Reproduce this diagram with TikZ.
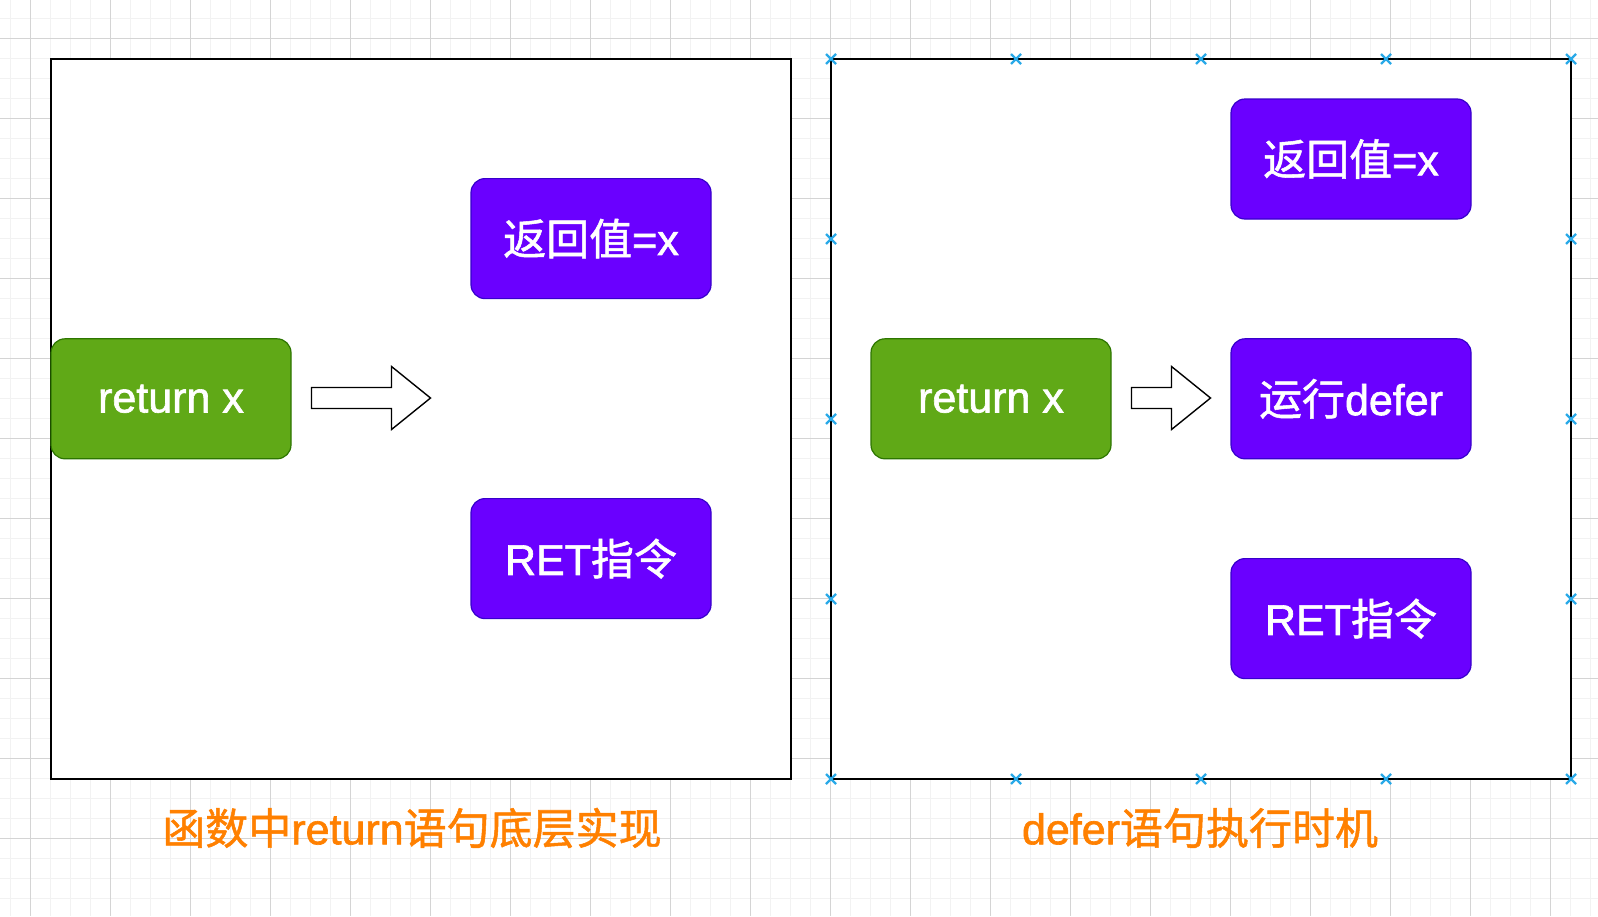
\documentclass[tikz,border=0pt]{standalone}
\usepackage{fontspec}
\setmainfont{Liberation Sans}[FakeBold=1.5]
\newfontfamily\cjk{Noto Sans CJK SC}[FakeBold=1.2]

\definecolor{gridlight}{HTML}{F2F2F2}
\definecolor{griddark}{HTML}{D4D4D4}
\definecolor{retfill}{HTML}{60A917}
\definecolor{retline}{HTML}{2D7600}
\definecolor{stepfill}{HTML}{6A00FF}
\definecolor{stepline}{HTML}{3700CC}
\definecolor{capcolor}{HTML}{FF8000}
\definecolor{handle}{HTML}{29A9E8}

\tikzset{
  frame/.style={draw=black,fill=white,line width=0.9pt,minimum width=370pt,minimum height=360pt,inner sep=0pt},
  retbox/.style={draw=retline,fill=retfill,line width=0.6pt,rounded corners=7pt,minimum width=120pt,minimum height=60pt,text=white,font=\fontsize{21.5pt}{25pt}\selectfont},
  stepbox/.style={retbox,draw=stepline,fill=stepfill},
  caption/.style={text=capcolor,font=\fontsize{21.5pt}{25pt}\selectfont},
  hollowarrow/.style={draw=black,fill=white,line width=0.7pt,line join=miter},
  xmark/.style={draw=handle,line width=1.1pt}
}

\begin{document}
\begin{tikzpicture}[x=0.5pt,y=-0.5pt]
  \useasboundingbox (0,0) rectangle (1598,916);
  \fill[white] (0,0) rectangle (1598,916);
  % grid
  \foreach \gx in {10.7,30.7,...,1598}
    \draw[gridlight,line width=0.5pt] (\gx,0) -- (\gx,916);
  \foreach \gy in {18.7,38.7,...,916}
    \draw[gridlight,line width=0.5pt] (0,\gy) -- (1598,\gy);
  \foreach \gx in {30.7,110.7,...,1598}
    \draw[griddark,line width=0.5pt] (\gx,0) -- (\gx,916);
  \foreach \gy in {38.7,118.7,...,916}
    \draw[griddark,line width=0.5pt] (0,\gy) -- (1598,\gy);

  % left part
  \node[frame] (lframe) at (421,419) {};
  \node[retbox] (lret) at (171,398.8) {return x};
  \node[stepbox] (lval) at (591,238.6) {{\cjk 返回值}=x};
  \node[stepbox] (lins) at (591,558.6) {RET{\cjk 指令}};
  \coordinate (larrow) at (311.5,398);
  \draw[hollowarrow] (larrow) ++(0,-10.5) -- ++(80,0) -- ++(0,-21) -- ++(39,31.5)
    -- ++(-39,31.5) -- ++(0,-21) -- ++(-80,0) -- cycle;
  \node[caption] (lcap) at (412,828) {{\cjk 函数中}return{\cjk 语句底层实现}};

  % right part
  \node[frame] (rframe) at (1201,419) {};
  \foreach \mx in {831,1016,1201,1386,1571}
    \foreach \my in {59,779}
      \draw[xmark] (\mx-5,\my-5) -- (\mx+5,\my+5) (\mx-5,\my+5) -- (\mx+5,\my-5);
  \foreach \mx in {831,1571}
    \foreach \my in {239,419,599}
      \draw[xmark] (\mx-5,\my-5) -- (\mx+5,\my+5) (\mx-5,\my+5) -- (\mx+5,\my-5);
  \node[retbox] (rret) at (991,398.8) {return x};
  \node[stepbox] (rval) at (1351,159) {{\cjk 返回值}=x};
  \node[stepbox] (rdefer) at (1351,398.8) {{\cjk 运行}defer};
  \node[stepbox] (rins) at (1351,618.6) {RET{\cjk 指令}};
  \coordinate (rarrow) at (1131.5,398);
  \draw[hollowarrow] (rarrow) ++(0,-10.5) -- ++(40,0) -- ++(0,-21) -- ++(39,31.5)
    -- ++(-39,31.5) -- ++(0,-21) -- ++(-40,0) -- cycle;
  \node[caption] (rcap) at (1200,828) {defer{\cjk 语句执行时机}};
\end{tikzpicture}
\end{document}
